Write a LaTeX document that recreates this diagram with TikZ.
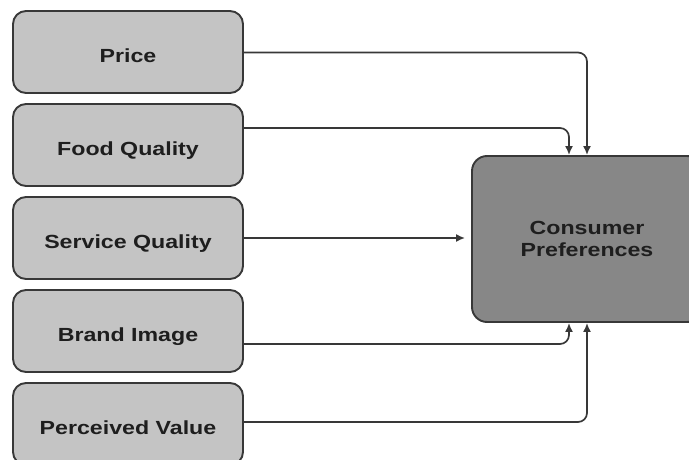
\documentclass[tikz,border=0pt]{standalone}
\usepackage{fontspec}
\setmainfont{Liberation Sans}[FakeStretch=1.22]
\usetikzlibrary{arrows.meta}
\definecolor{lbfill}{HTML}{C4C4C4}
\definecolor{bbfill}{HTML}{878787}
\definecolor{edge}{HTML}{383838}
\definecolor{txt}{HTML}{1E1E1E}
\tikzset{
  leftbox/.style={draw=edge, fill=lbfill, line width=1.9pt, rounded corners=13pt,
    minimum width=230pt, minimum height=82pt, inner sep=0pt,
    text height=21pt, text depth=0pt,
    font=\fontsize{19}{22}\selectfont\bfseries, text=txt},
  bigbox/.style={draw=edge, fill=bbfill, line width=1.9pt, rounded corners=15pt,
    minimum width=230pt, minimum height=166pt, inner sep=0pt, align=center,
    font=\fontsize{19}{22}\selectfont\bfseries, text=txt},
  conn/.style={draw=edge, line width=1.7pt, rounded corners=9pt,
    -{Latex[length=9pt,width=8pt]}}
}
\begin{document}
\begin{tikzpicture}
\useasboundingbox (0pt,0pt) rectangle (689pt,-460pt);
\node[leftbox] (price) at (128pt,-52pt) {Price};
\node[leftbox] (food) at (128pt,-145pt) {Food Quality};
\node[leftbox] (service) at (128pt,-238pt) {Service Quality};
\node[leftbox] (brand) at (128pt,-331pt) {Brand Image};
\node[leftbox] (value) at (128pt,-424pt) {Perceived Value};
\node[bigbox] (cp) at (587pt,-239pt) {Consumer\\Preferences};
\draw[conn] (price.east |- 0,-52.5pt) -| (cp.north);
\draw[conn] (food.east |- 0,-128pt) -| ([xshift=-18pt]cp.north);
\draw[conn] (service.east |- 0,-238pt) -- ([xshift=-6pt]cp.west |- 0,-238pt);
\draw[conn] (brand.east |- 0,-344pt) -| ([xshift=-18pt]cp.south);
\draw[conn] (value.east |- 0,-422pt) -| (cp.south);
\end{tikzpicture}
\end{document}
